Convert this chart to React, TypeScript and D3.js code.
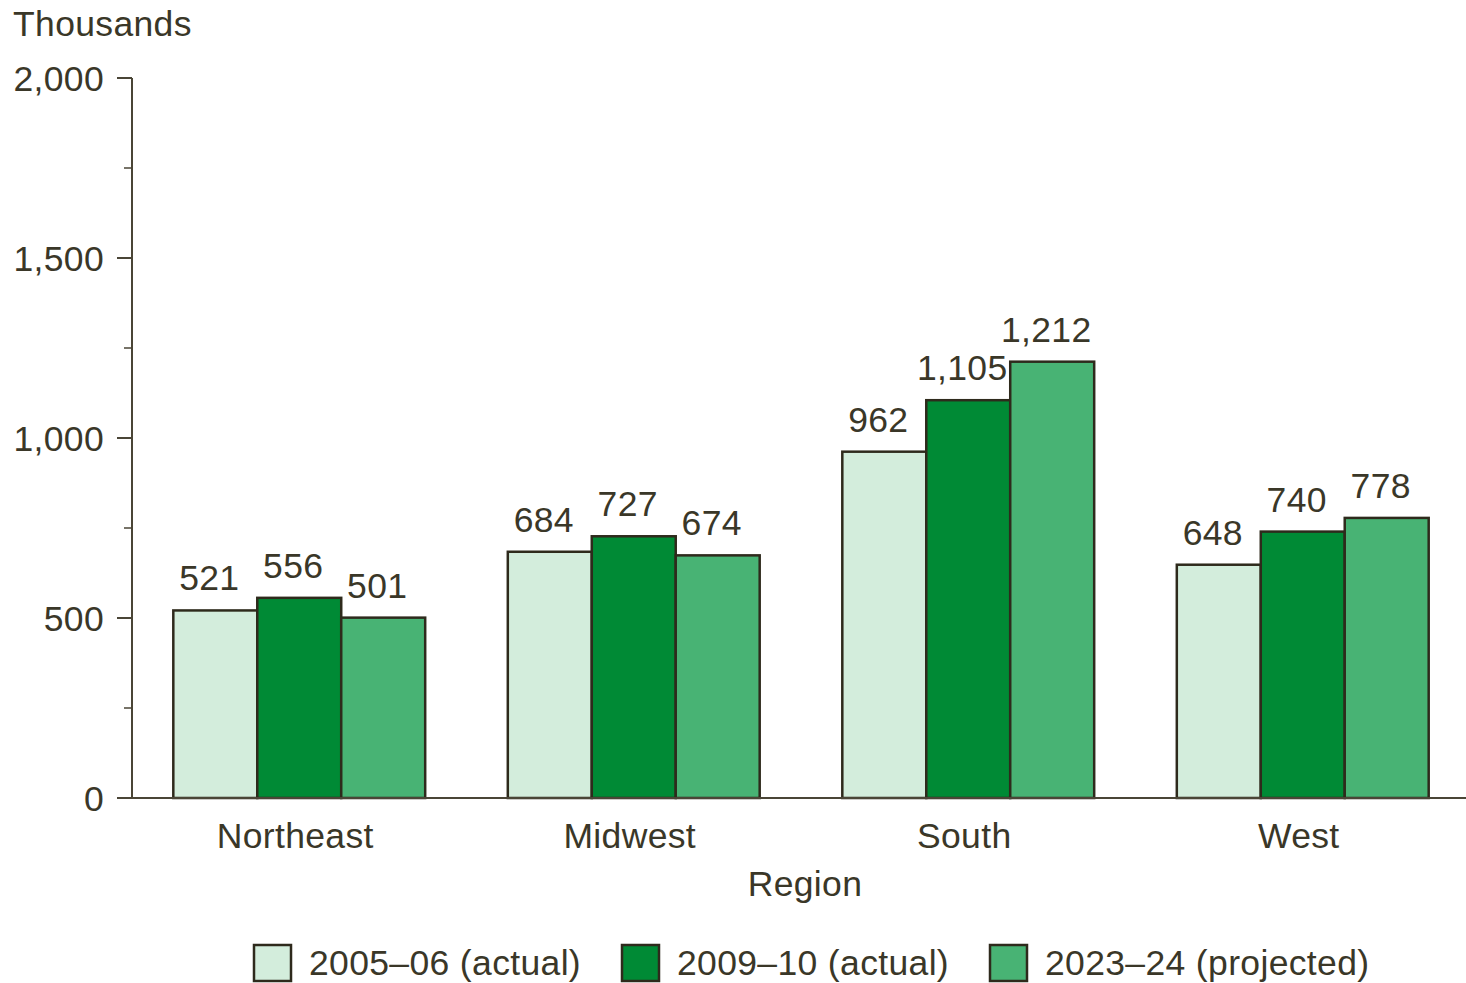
import React from "react";
import * as d3 from "d3";

const regions = ["Northeast", "Midwest", "South", "West"];
const seriesNames = ["2005–06 (actual)", "2009–10 (actual)", "2023–24 (projected)"];
const values2005 = [521, 684, 962, 648];
const values2009 = [556, 727, 1105, 740];
const values2023 = [501, 674, 1212, 778];
const majorTicks = [0, 500, 1000, 1500, 2000];
const minorTicks = [250, 750, 1250, 1750];
const colors = ["#d3eddc", "#008a35", "#48b374"];

const W = 1466;
const H = 983;
const TEXT = "#3a3728";
const AXIS = "#4a4536";
const FONT = "'Liberation Sans', Arial, Helvetica, sans-serif";
const FS = 35.5;
const LS = 0.35;

export default function App() {
  const series = [values2005, values2009, values2023];
  const y = d3.scaleLinear().domain([0, 2000]).range([798, 78]);
  const x0 = d3
    .scaleBand<string>()
    .domain(regions)
    .range([132, 1470])
    .paddingInner(0.247)
    .paddingOuter(0.1235);
  const x1 = d3
    .scaleBand<number>()
    .domain([0, 1, 2])
    .range([0, x0.bandwidth()]);
  const fmt = d3.format(",");

  return (
    <svg
      width={W}
      height={H}
      style={{ position: "absolute", left: 0, top: 0, background: "#fff" }}
      fontFamily={FONT}
      letterSpacing={LS}
    >
      <text x={13} y={36} fontSize={FS} fill={TEXT}>
        Thousands
      </text>
      {/* y axis */}
      <line x1={132} x2={132} y1={y(2000)} y2={y(0)} stroke={AXIS} strokeWidth={2} />
      {majorTicks.map((t) => (
        <g key={t}>
          <line x1={117} x2={132} y1={y(t)} y2={y(t)} stroke={AXIS} strokeWidth={2} />
          <text
            x={104}
            y={y(t)}
            dy="0.36em"
            textAnchor="end"
            fontSize={FS}
            fill={TEXT}
          >
            {fmt(t)}
          </text>
        </g>
      ))}
      {minorTicks.map((t) => (
        <line key={t} x1={124} x2={132} y1={y(t)} y2={y(t)} stroke={AXIS} strokeWidth={1.5} />
      ))}
      {/* bars */}
      {regions.map((r, i) => (
        <g key={r} transform={`translate(${x0(r)},0)`}>
          {series.map((s, j) => (
            <g key={j}>
              <rect
                x={x1(j)}
                y={y(s[i])}
                width={x1.bandwidth()}
                height={y(0) - y(s[i])}
                fill={colors[j]}
                stroke="#2e2a1c"
                strokeWidth={2.5}
              />
              <text
                x={(x1(j) as number) + x1.bandwidth() / 2 - 6}
                y={y(s[i]) - 20}
                textAnchor="middle"
                fontSize={FS}
                fill={TEXT}
              >
                {fmt(s[i])}
              </text>
            </g>
          ))}
          <text
            x={x0.bandwidth() / 2 - 4}
            y={848}
            textAnchor="middle"
            fontSize={FS}
            fill={TEXT}
          >
            {r}
          </text>
        </g>
      ))}
      {/* x axis line */}
      <line x1={117} x2={1466} y1={y(0)} y2={y(0)} stroke={AXIS} strokeWidth={2} />
      <text x={805} y={896} textAnchor="middle" fontSize={FS} fill={TEXT}>
        Region
      </text>
      {/* legend */}
      {seriesNames.map((name, j) => {
        const lx = [254, 622, 990][j];
        return (
          <g key={name}>
            <rect x={lx} y={945} width={37} height={36} fill={colors[j]} stroke="#2e2a1c" strokeWidth={2.5} />
            <text x={lx + 55} y={975} fontSize={FS} fill={TEXT}>
              {name}
            </text>
          </g>
        );
      })}
    </svg>
  );
}
